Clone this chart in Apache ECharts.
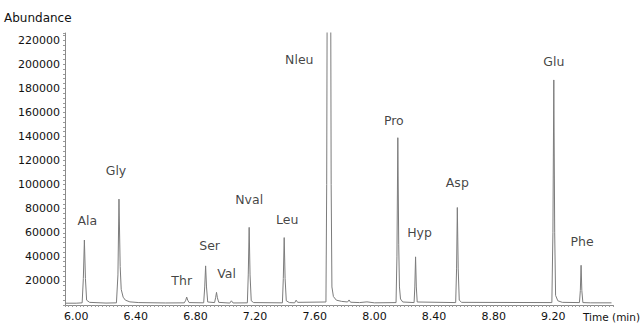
<!DOCTYPE html>
<html>
<head>
<meta charset="utf-8">
<script src="https://cdn.jsdelivr.net/npm/echarts@6/dist/echarts.min.js"></script>
<style>
html,body{margin:0;padding:0;background:#fff;}
#chart{width:642px;height:323px;}
</style>
</head>
<body>
<div id="chart"></div>
<script>
// Chromatogram trace: retention time (min) and abundance
const traceTime = [
  5.930, 6.000, 6.040, 6.048, 6.055, 6.062, 6.070, 6.090, 6.200,
  6.270, 6.280, 6.287, 6.295, 6.302, 6.315, 6.330, 6.360, 6.420, 6.600,
  6.725, 6.735, 6.741, 6.748, 6.757,
  6.855, 6.862, 6.868, 6.874, 6.882,
  6.928, 6.935, 6.941, 6.947, 6.956,
  7.030, 7.041, 7.052,
  7.148, 7.154, 7.160, 7.166, 7.174, 7.190,
  7.383, 7.389, 7.395, 7.401, 7.409, 7.430,
  7.465, 7.475, 7.485,
  7.675, 7.680, 7.684, 7.706, 7.710, 7.715, 7.725, 7.745, 7.780, 7.820, 7.830, 7.840, 7.900, 7.950, 8.000,
  8.145, 8.151, 8.157, 8.163, 8.168, 8.175, 8.190,
  8.266, 8.271, 8.276, 8.281, 8.287,
  8.545, 8.551, 8.556, 8.562, 8.569, 8.585,
  9.190, 9.197, 9.203, 9.209, 9.215, 9.230, 9.260,
  9.375, 9.381, 9.386, 9.391, 9.398, 9.450, 9.590
];
const traceAbundance = [
  1500, 1500, 1800, 22000, 54000, 22000, 4000, 2200, 1600,
  1800, 25000, 88000, 32000, 13000, 6500, 4000, 2600, 2000, 1700,
  1800, 4000, 6600, 4000, 2000,
  1800, 15000, 32500, 15000, 2500,
  2000, 6000, 10500, 6000, 2200,
  1600, 3500, 1700,
  1800, 25000, 64500, 25000, 3500, 2000,
  1800, 22000, 56000, 22000, 3500, 2000,
  1800, 4000, 2200,
  2500, 100000, 300000, 300000, 100000, 15000, 7000, 4000, 3000, 2500, 4200, 2300, 2000, 2600, 1800,
  2000, 40000, 139000, 50000, 15000, 5000, 2500,
  2000, 15000, 40000, 15000, 2500,
  2000, 30000, 81000, 30000, 4000, 2200,
  2000, 60000, 187000, 60000, 8000, 3500, 2200,
  2000, 12000, 33000, 12000, 2000, 1800, 1800
];

// Peak annotations
const peakNames   = ['Ala', 'Gly', 'Thr', 'Ser', 'Val', 'Nval', 'Leu', 'Nleu', 'Pro', 'Hyp', 'Asp', 'Glu', 'Phe'];
const peakTimes   = [6.055, 6.287, 6.741, 6.868, 6.941, 7.160, 7.395, 7.684, 8.157, 8.276, 8.556, 9.203, 9.386];
const peakHeights = [54000, 88000, 6600, 32500, 10500, 64500, 56000, 226000, 139000, 40000, 81000, 187000, 33000];

// Axis tick labels
const xTickLabels = ['6.00', '6.40', '6.80', '7.20', '7.60', '8.00', '8.40', '8.80', '9.20'];
const yTickLabels = ['20000', '40000', '60000', '80000', '100000', '120000', '140000', '160000', '180000', '200000', '220000'];

// label offsets (pixels) – styling only
const labelOffsets = [[3, 2], [-3, -7], [-5, 5], [4, 1], [10, 3], [0, -6], [3, 3], [-28, 48], [-4, 4], [4, -3], [0, -4], [0, 3], [1, -2]];

const FONT = 'DejaVu Sans';
const chart = echarts.init(document.getElementById('chart'), null, {renderer: 'svg'});

const traceData = traceTime.map((t, i) => [t, traceAbundance[i]]);
const labelData = peakNames.map((n, i) => ({
  name: n,
  value: [peakTimes[i], peakHeights[i]],
  label: {offset: labelOffsets[i]}
}));

chart.setOption({
  animation: false,
  backgroundColor: '#ffffff',
  grid: {left: 65, right: 29, top: 33, bottom: 18, containLabel: false},
  xAxis: {
    type: 'value',
    min: 5.925,
    max: 9.6,
    interval: 0.025,
    axisLine: {show: true, lineStyle: {color: '#8a8a8a', width: 1}},
    axisTick: {show: true, length: 2, lineStyle: {color: '#9a9a9a'}},
    splitLine: {show: false},
    axisLabel: {
      margin: 6,
      color: '#111',
      fontFamily: FONT,
      fontSize: 11,
      formatter: function (v) {
        const s = v.toFixed(2);
        return xTickLabels.indexOf(s) >= 0 && Math.abs(v - parseFloat(s)) < 1e-6 ? s : '';
      }
    }
  },
  yAxis: {
    type: 'value',
    min: 0,
    max: 226000,
    interval: 4000,
    axisLine: {show: true, lineStyle: {color: '#8a8a8a', width: 1}},
    axisTick: {show: true, length: 2, lineStyle: {color: '#9a9a9a'}},
    splitLine: {show: false},
    axisLabel: {
      margin: 5,
      color: '#111',
      fontFamily: FONT,
      fontSize: 11,
      formatter: function (v) {
        const s = String(Math.round(v));
        return yTickLabels.indexOf(s) >= 0 ? s : '';
      }
    }
  },
  series: [
    {
      type: 'line',
      data: traceData,
      showSymbol: false,
      symbol: 'none',
      clip: true,
      lineStyle: {color: '#7c7c7c', width: 1},
      z: 2
    },
    {
      type: 'scatter',
      data: labelData,
      symbolSize: 0,
      clip: false,
      silent: true,
      label: {
        show: true,
        position: 'top',
        distance: 15,
        formatter: '{b}',
        color: '#111',
        fontFamily: FONT,
        fontSize: 12.5
      },
      z: 3
    }
  ],
  graphic: [
    {type: 'text', left: 4, top: 12, style: {text: 'Abundance', font: '12px "DejaVu Sans"', fill: '#111'}},
    {type: 'text', left: 583, top: 311, style: {text: 'Time (min)', font: '10.5px "DejaVu Sans"', fill: '#111'}}
  ]
});
</script>
</body>
</html>
